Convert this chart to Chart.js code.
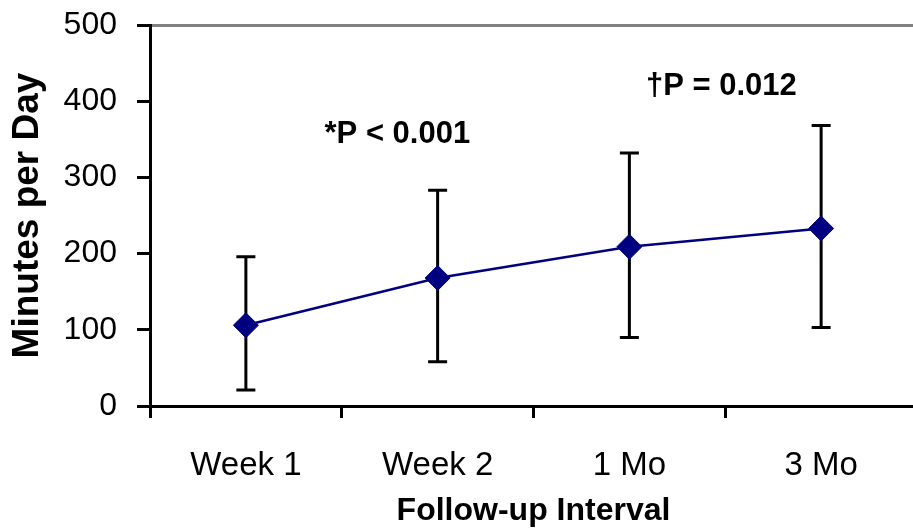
<!DOCTYPE html>
<html>
<head>
<meta charset="utf-8">
<script src="https://cdn.jsdelivr.net/npm/chart.js@4"></script>
<style>
  html, body { margin: 0; padding: 0; background: #fff; overflow: hidden; }
  #wrap { width: 913px; height: 530px; overflow: hidden; }
</style>
</head>
<body>
<div id="wrap"><canvas id="chart" width="922" height="530"></canvas></div>
<script>
// Follow-up intervals and mean minutes per day with error ranges
const categories = ['Week 1', 'Week 2', '1 Mo', '3 Mo'];
const meanMinutes = [106, 168, 209, 233];
const upperMinutes = [196, 283, 332, 368];
const lowerMinutes = [21, 58, 90, 103];
const yTicks = [0, 100, 200, 300, 400, 500];

// Significance notes, placed in data coordinates (category index, minutes)
const pValueNotes = [
  { text: '*P < 0.001', at: [0.79, 345] },
  { text: '\u2020P = 0.012', at: [2.48, 408] }
];

const FONT = "'Liberation Sans', Arial, sans-serif";

const errorBars = {
  id: 'errorBars',
  beforeDatasetsDraw(chart) {
    const { ctx, scales: { x, y } } = chart;
    const cap = 9.5;
    ctx.save();
    ctx.strokeStyle = '#000';
    ctx.lineWidth = 3;
    ctx.lineCap = 'butt';
    categories.forEach((c, i) => {
      const px = x.getPixelForValue(i);
      const top = y.getPixelForValue(upperMinutes[i]);
      const bot = y.getPixelForValue(lowerMinutes[i]);
      ctx.beginPath();
      ctx.moveTo(px, top); ctx.lineTo(px, bot);
      ctx.moveTo(px - cap, top); ctx.lineTo(px + cap, top);
      ctx.moveTo(px - cap, bot); ctx.lineTo(px + cap, bot);
      ctx.stroke();
    });
    ctx.restore();
  }
};

const notes = {
  id: 'notes',
  afterDraw(chart) {
    const { ctx, scales: { x, y } } = chart;
    ctx.save();
    ctx.fillStyle = '#000';
    ctx.font = 'bold 31px ' + FONT;
    ctx.textAlign = 'center';
    ctx.textBaseline = 'alphabetic';
    pValueNotes.forEach(n => {
      ctx.fillText(n.text, x.getPixelForValue(n.at[0]), y.getPixelForValue(n.at[1]));
    });
    ctx.restore();
  }
};

new Chart(document.getElementById('chart'), {
  type: 'line',
  data: {
    labels: categories,
    datasets: [{
      data: meanMinutes,
      borderColor: '#000080',
      borderWidth: 2.5,
      pointStyle: 'rectRot',
      pointRadius: 12.5,
      pointBorderWidth: 1,
      pointBackgroundColor: '#000080',
      pointBorderColor: '#000080',
      tension: 0,
      fill: false,
      clip: false
    }]
  },
  options: {
    responsive: false,
    animation: false,
    events: [],
    layout: { autoPadding: false, padding: { top: 25, right: 5, left: 0, bottom: 0 } },
    plugins: { legend: { display: false }, tooltip: { enabled: false } },
    scales: {
      x: {
        offset: true,
        grid: {
          offset: true,
          color: 'rgba(0,0,0,0)',
          // the closing boundary line after the last category carries no tick mark
          tickColor: ctx => ctx.tick ? '#000' : 'rgba(0,0,0,0)',
          tickLength: 12,
          tickWidth: 3,
          lineWidth: 3
        },
        border: { color: '#000', width: 3 },
        ticks: {
          color: '#000',
          font: { family: FONT, size: 33 },
          padding: 28,
          maxRotation: 0
        },
        title: {
          display: true,
          text: 'Follow-up Interval',
          color: '#000',
          font: { family: FONT, size: 32, weight: 'bold' },
          padding: { top: 0, bottom: 0 }
        },
        afterFit(scale) {
          scale.height = 124;
          scale.paddingLeft = 0;
          scale.paddingRight = 0;
        }
      },
      y: {
        min: 0,
        max: 500,
        afterBuildTicks(scale) { scale.ticks = yTicks.map(v => ({ value: v })); },
        grid: {
          color: ctx => (ctx.tick && ctx.tick.value === 500) ? '#808080' : 'rgba(0,0,0,0)',
          tickColor: '#000',
          tickLength: 13,
          tickWidth: 3,
          lineWidth: 3
        },
        border: { color: '#000', width: 3 },
        ticks: {
          color: '#000',
          font: { family: FONT, size: 32 },
          padding: 20
        },
        title: {
          display: true,
          text: 'Minutes per Day',
          color: '#000',
          font: { family: FONT, size: 37, weight: 'bold' },
          padding: { top: 6, bottom: 0 }
        },
        afterFit(scale) {
          scale.width = 150;
          scale.paddingTop = 0;
          scale.paddingBottom = 0;
        }
      }
    }
  },
  plugins: [errorBars, notes]
});
</script>
</body>
</html>
